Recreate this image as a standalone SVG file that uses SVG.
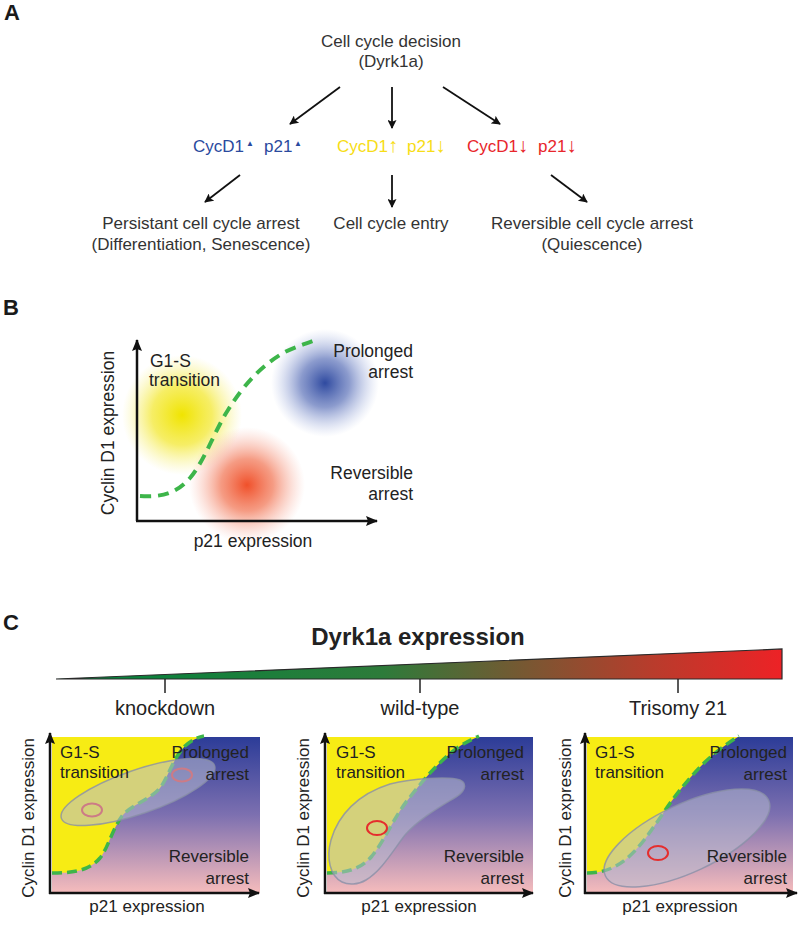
<svg xmlns="http://www.w3.org/2000/svg" width="800" height="925" viewBox="0 0 800 925">
<style>
text{font-family:"Liberation Sans","DejaVu Sans",Arial,sans-serif;}
.lbl{font-size:22px;font-weight:bold;fill:#1a1a1a;}
.ta{font-size:17px;fill:#333;text-anchor:middle;}
.blue{fill:#2a4a9e;font-size:17px;}
.yel{fill:#f7dd16;font-size:17px;}
.red{fill:#e8262b;font-size:17px;}
.ar{font-size:20px;}
.arrA{stroke:#111;stroke-width:1.8;fill:none;marker-end:url(#ah);}
.axis{stroke:#111;stroke-width:2.5;fill:none;marker-end:url(#ax);}
.pl{font-size:17px;fill:#222;}
.plB{font-size:17.5px;fill:#222;}
.r{text-anchor:end;}
.mid{text-anchor:middle;}
.dash{fill:none;stroke:#3db54a;stroke-width:3.5;stroke-dasharray:10 5;}
.dashB{fill:none;stroke:#3db54a;stroke-width:4;stroke-dasharray:11 7;}
.blob{fill:#b8bcd0;fill-opacity:0.55;stroke:#8a90a8;stroke-width:1.5;stroke-opacity:0.8;}
.ring{fill:none;stroke:#e52d2d;stroke-width:2;}
.tick{stroke:#222;stroke-width:1.5;}
.cond{font-size:20px;fill:#222;text-anchor:middle;}
</style>
<defs>
<marker id="ah" viewBox="0 0 10 10" refX="9" refY="5" markerWidth="10" markerHeight="9" markerUnits="userSpaceOnUse" orient="auto"><path d="M0,0 L10,5 L0,10 L2,5 Z" fill="#111"/></marker>
<marker id="ax" viewBox="0 0 12 10" refX="11" refY="5" markerWidth="12" markerHeight="10" markerUnits="userSpaceOnUse" orient="auto"><path d="M0,0 L12,5 L0,10 L2,5 Z" fill="#111"/></marker>
<linearGradient id="dyrk" x1="56" y1="0" x2="782" y2="0" gradientUnits="userSpaceOnUse">
<stop offset="0" stop-color="#00843d"/><stop offset="0.45" stop-color="#2d7b3a"/><stop offset="0.62" stop-color="#6e5c33"/><stop offset="0.82" stop-color="#b83c2c"/><stop offset="1" stop-color="#ed2226"/>
</linearGradient>
<linearGradient id="bp" x1="0" y1="0" x2="0" y2="1">
<stop offset="0" stop-color="#2c3c98"/><stop offset="0.5" stop-color="#7d70b0"/><stop offset="1" stop-color="#f6bcbc"/>
</linearGradient>
<radialGradient id="gy"><stop offset="0" stop-color="#f0e400"/><stop offset="0.5" stop-color="#f3e832" stop-opacity="0.75"/><stop offset="1" stop-color="#f7f080" stop-opacity="0"/></radialGradient>
<radialGradient id="gb"><stop offset="0" stop-color="#2f4aa0"/><stop offset="0.45" stop-color="#5a70b8" stop-opacity="0.7"/><stop offset="1" stop-color="#a0b0e0" stop-opacity="0"/></radialGradient>
<radialGradient id="gr"><stop offset="0" stop-color="#f0502a"/><stop offset="0.45" stop-color="#f27a5a" stop-opacity="0.75"/><stop offset="1" stop-color="#f8b0a0" stop-opacity="0"/></radialGradient>
</defs>
<rect width="800" height="925" fill="#fff"/>

<!-- Panel A -->
<text class="lbl" x="4" y="20">A</text>
<g id="decision"><text class="ta" x="391" y="47">Cell cycle decision</text><text class="ta" x="391" y="67">(Dyrk1a)</text></g>
<g id="state-blue"><text class="blue" x="193" y="152">CycD1</text><text class="blue" x="246" y="146" style="font-size:8px">▲</text><text class="blue" x="264" y="152">p21</text><text class="blue" x="294" y="146" style="font-size:8px">▲</text></g>
<g id="state-yellow"><text class="yel" x="337" y="152">CycD1<tspan class="ar" dx="0">↑</tspan></text><text class="yel" x="407" y="152">p21<tspan class="ar" dx="0">↓</tspan></text></g>
<g id="state-red"><text class="red" x="467" y="152">CycD1<tspan class="ar" dx="0">↓</tspan></text><text class="red" x="538" y="152">p21<tspan class="ar" dx="0">↓</tspan></text></g>
<g id="outcome-persistent"><text class="ta" x="201" y="229">Persistant cell cycle arrest</text><text class="ta" x="201" y="250">(Differentiation, Senescence)</text></g>
<g id="outcome-entry"><text class="ta" x="391" y="229">Cell cycle entry</text></g>
<g id="outcome-reversible"><text class="ta" x="592" y="229">Reversible cell cycle arrest</text><text class="ta" x="592" y="250">(Quiescence)</text></g>
<g id="connectors">
<line class="arrA" x1="340" y1="87" x2="290" y2="124"/>
<line class="arrA" x1="392" y1="87" x2="392" y2="128"/>
<line class="arrA" x1="443" y1="87" x2="500" y2="124"/>
<line class="arrA" x1="240" y1="175" x2="205" y2="202"/>
<line class="arrA" x1="392" y1="175" x2="392" y2="207"/>
<line class="arrA" x1="551" y1="175" x2="587" y2="202"/>
</g>

<!-- Panel B -->
<text class="lbl" x="3" y="315">B</text>
<g id="panelB">
<circle cx="182" cy="415" r="60" fill="url(#gy)"/>
<circle cx="325" cy="383" r="54" fill="url(#gb)"/>
<circle cx="247" cy="485" r="58" fill="url(#gr)"/>
<path class="dashB" d="M140,496 C160,497 175,495 190,478 C205,460 215,430 228,410 C245,383 262,365 285,352 C295,347 305,344 313,341"/>
<line class="axis" x1="137" y1="521" x2="137" y2="340"/>
<line class="axis" x1="136" y1="521" x2="377" y2="521"/>
<text class="plB" x="150" y="367">G1-S</text>
<text class="plB" x="149" y="386">transition</text>
<text class="plB r" x="413" y="357">Prolonged</text>
<text class="plB r" x="413" y="378">arrest</text>
<text class="plB r" x="413" y="479">Reversible</text>
<text class="plB r" x="413" y="500">arrest</text>
<text class="plB mid" x="253" y="547">p21 expression</text>
<text class="plB mid" transform="translate(114,433) rotate(-90)">Cyclin D1 expression</text>
</g>

<!-- Panel C -->
<text class="lbl" x="3" y="630">C</text>
<g id="dyrk-gradient">
<text x="418" y="645" style="font-size:24px;font-weight:bold;fill:#222;text-anchor:middle">Dyrk1a expression</text>
<path d="M56,679 L782,649 L782,679 Z" fill="url(#dyrk)" stroke="#2a2a2a" stroke-width="1.2" stroke-linejoin="miter"/>
<line class="tick" x1="165" y1="679" x2="165" y2="693"/>
<line class="tick" x1="420" y1="679" x2="420" y2="693"/>
<line class="tick" x1="678" y1="679" x2="678" y2="693"/>
<text class="cond" x="165" y="715">knockdown</text>
<text class="cond" x="420" y="715">wild-type</text>
<text class="cond" x="678" y="715">Trisomy 21</text>
</g>

<g id="plot-knockdown">
<rect x="52" y="737" width="208" height="156" fill="url(#bp)"/>
<path d="M52,737 L52,873 C70,873 88,872 100,858 C108,848 112,830 122,816 C132,804 150,800 160,788 C168,778 172,760 185,746 C192,740 198,737 204,737 Z" fill="#f7ec14"/>
<path class="dash" d="M52,873 C70,873 88,872 100,858 C108,848 112,830 122,816 C132,804 150,800 160,788 C168,778 172,760 185,746 C192,740 198,737 204,736"/>
<ellipse class="ring" cx="92" cy="810" rx="10" ry="6.5"/>
<ellipse class="ring" cx="182" cy="775" rx="10" ry="6.5"/>
<ellipse class="blob" cx="138" cy="792" rx="81" ry="22" transform="rotate(-19 138 792)"/>
<line class="axis" x1="50" y1="894" x2="50" y2="733"/>
<line class="axis" x1="49" y1="893" x2="259" y2="893"/>
<text class="pl" x="60" y="758">G1-S</text>
<text class="pl" x="60" y="778">transition</text>
<text class="pl r" x="249" y="758">Prolonged</text>
<text class="pl r" x="249" y="780">arrest</text>
<text class="pl r" x="249" y="862">Reversible</text>
<text class="pl r" x="249" y="884">arrest</text>
<text class="pl mid" x="147" y="912">p21 expression</text>
<text class="pl mid" transform="translate(34,818) rotate(-90)">Cyclin D1 expression</text>
</g>

<g id="plot-wildtype">
<rect x="327" y="737" width="206" height="156" fill="url(#bp)"/>
<path d="M327,737 L327,873 C345,873 360,870 372,856 C385,840 395,815 410,797 C425,778 440,760 460,746 C468,741 473,739 478,737 Z" fill="#f7ec14"/>
<path class="dash" d="M327,873 C345,873 360,870 372,856 C385,840 395,815 410,797 C425,778 440,760 460,746 C468,741 473,739 479,736"/>
<path class="blob" d="M342,882 C330,876 326,858 331,840 C338,815 358,794 390,784 C415,778 445,777 456,779 C468,781 467,790 456,797 C440,807 420,818 405,835 C392,852 382,870 366,880 C358,885 348,885 342,882 Z"/>
<ellipse class="ring" cx="377" cy="828" rx="10" ry="7"/>
<line class="axis" x1="325" y1="894" x2="325" y2="733"/>
<line class="axis" x1="324" y1="893" x2="533" y2="893"/>
<text class="pl" x="336" y="758">G1-S</text>
<text class="pl" x="336" y="778">transition</text>
<text class="pl r" x="524" y="758">Prolonged</text>
<text class="pl r" x="524" y="780">arrest</text>
<text class="pl r" x="524" y="862">Reversible</text>
<text class="pl r" x="524" y="884">arrest</text>
<text class="pl mid" x="419" y="912">p21 expression</text>
<text class="pl mid" transform="translate(309,818) rotate(-90)">Cyclin D1 expression</text>
</g>

<g id="plot-trisomy21">
<rect x="587" y="737" width="206" height="156" fill="url(#bp)"/>
<path d="M587,737 L587,873 C600,873 612,870 625,860 C640,848 650,832 662,815 C675,795 690,777 705,762 C718,750 728,743 738,737 Z" fill="#f7ec14"/>
<path class="dash" d="M587,873 C600,873 612,870 625,860 C640,848 650,832 662,815 C675,795 690,777 705,762 C718,750 728,743 739,736"/>
<ellipse class="blob" cx="687" cy="838" rx="90" ry="34" transform="rotate(-25 687 838)"/>
<ellipse class="ring" cx="658" cy="853" rx="10" ry="7"/>
<line class="axis" x1="585" y1="894" x2="585" y2="733"/>
<line class="axis" x1="584" y1="893" x2="797" y2="893"/>
<text class="pl" x="595" y="758">G1-S</text>
<text class="pl" x="595" y="778">transition</text>
<text class="pl r" x="787" y="758">Prolonged</text>
<text class="pl r" x="787" y="780">arrest</text>
<text class="pl r" x="787" y="862">Reversible</text>
<text class="pl r" x="787" y="884">arrest</text>
<text class="pl mid" x="680" y="912">p21 expression</text>
<text class="pl mid" transform="translate(571,818) rotate(-90)">Cyclin D1 expression</text>
</g>
</svg>
